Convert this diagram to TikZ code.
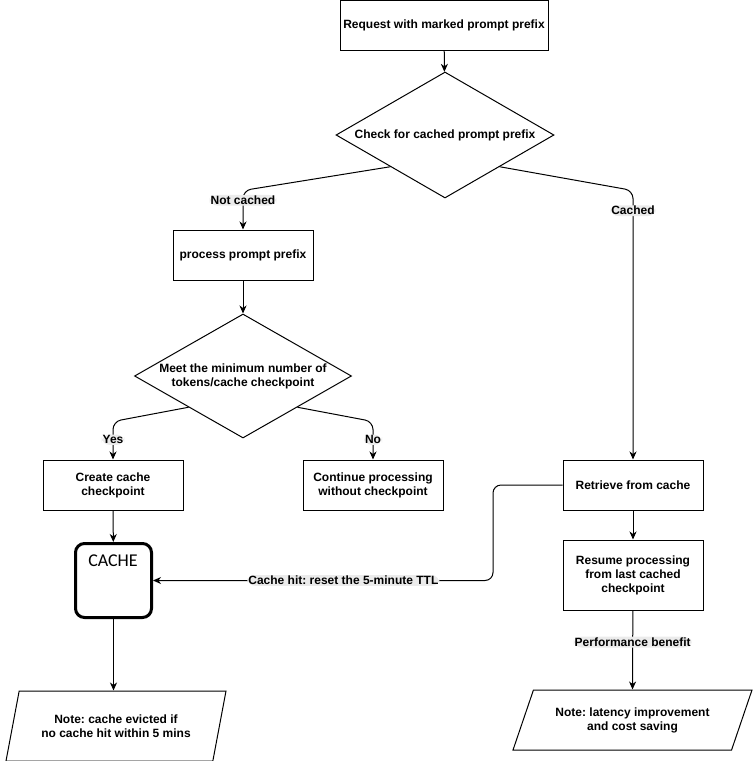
\documentclass[tikz,border=0pt]{standalone}
\usepackage{fontspec}
\setmainfont{Liberation Sans}
\newfontfamily\cachefont{Carlito}
\usetikzlibrary{shapes.geometric,arrows.meta,calc}
\frenchspacing

\tikzset{
  box/.style={draw,minimum width=140pt,minimum height=50pt,align=center,inner sep=2pt},
  decide/.style={draw,diamond,aspect=1.7,inner sep=0pt,align=center},
  note/.style={draw,trapezium,trapezium stretches body,align=center,inner sep=0pt},
  edgelbl/.style={fill=black!8,inner sep=1pt},
  flow/.style={-{Stealth[length=8pt,width=7pt,inset=2.5pt]},rounded corners=8pt},
}

\begin{document}
\begin{tikzpicture}[x=1pt,y=-1pt,line width=1pt,every node/.style={font=\fontsize{12}{14}\selectfont\bfseries}]
 \useasboundingbox (0,0) rectangle (754,761);
 % blocks
 \node [box,minimum width=208pt] (req) at (444,25) {Request with marked prompt prefix};
 \node [decide,minimum width=218pt,minimum height=126pt] (chk) at (445,135) {Check for cached prompt prefix};
 \node [box] (pp) at (243,255) {process prompt prefix};
 \node [decide,minimum width=217pt,minimum height=124pt] (meet) at (243,376) {Meet the minimum number of\\tokens/cache checkpoint};
 \node [box] (create) at (113,485) {Create cache\\checkpoint};
 \node [box] (cont) at (373,485) {Continue processing\\without checkpoint};
 \node [box] (retr) at (633,485) {Retrieve from cache};
 \node [box,minimum height=70pt] (resume) at (633,575) {Resume processing\\from last cached\\checkpoint};
 \node [draw,line width=3pt,rounded corners=9pt,minimum width=76pt,minimum height=74pt] (cache) at (113.5,580.5) {};
 \node [font=\cachefont\fontsize{18}{20}\selectfont] (cachetxt) at (113,561) {CACHE};
 \node [note,trapezium left angle=60,trapezium right angle=120,minimum width=220pt,minimum height=70pt] (evict) at (116,726) {Note: cache evicted if\\no cache hit within 5 mins};
 \node [note,trapezium left angle=51,trapezium right angle=129,minimum width=239pt,minimum height=60pt] (gain) at (632.5,720) {Note: latency improvement\\and cost saving};
 \coordinate (hit) at (493,0);
 % connectors
 \draw [flow] (req) -- (chk);
 \draw [flow] ($(chk.west)!.5!(chk.south)$) -- ($(chk.south -| pp.north)+(0,-8)$) -- node [edgelbl,pos=.25] {Not cached} (pp.north);
 \draw [flow] ($(chk.east)!.5!(chk.south)$) -- ($(chk.south -| retr.north)+(0,-8)$) -- node [edgelbl,pos=.075] {Cached} (retr.north);
 \draw [flow] (pp) -- (meet);
 \draw [flow] ($(meet.west)!.5!(meet.south)$) -- ($(meet.south -| create.north)+(0,-17)$) -- node [edgelbl,pos=.48] {Yes} (create.north);
 \draw [flow] ($(meet.east)!.5!(meet.south)$) -- ($(meet.south -| cont.north)+(0,-17)$) -- node [edgelbl,pos=.48] {No} (cont.north);
 \draw [flow] (create) -- (cache);
 \draw [flow] (cache) -- (cache.south |- evict.north);
 \draw [flow] (retr) -- (resume);
 \draw [flow] (retr.west) -- (retr.west -| hit) -- (cache.east -| hit) -- node [edgelbl,pos=.44] {Cache hit: reset the 5-minute TTL} (cache.east);
 \draw [flow] (resume) -- node [edgelbl,pos=.4] {Performance benefit} (gain.north);
\end{tikzpicture}
\end{document}
